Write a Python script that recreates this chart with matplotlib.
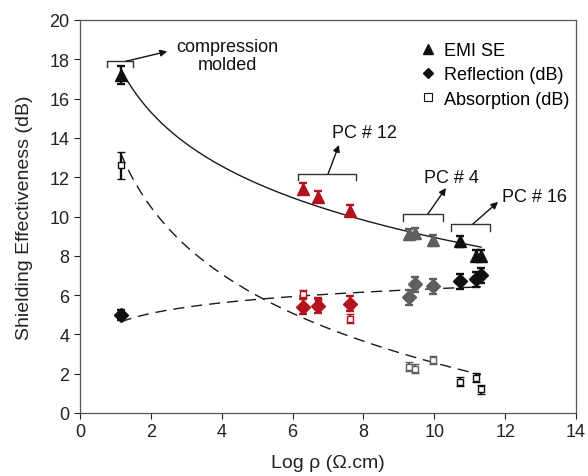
import numpy as np
import matplotlib
matplotlib.use("Agg")
import matplotlib.pyplot as plt
from matplotlib.lines import Line2D

plt.rcParams['font.family'] = ['Liberation Sans', 'DejaVu Sans']

# ---- data ----
cm_x = [1.15]
cm_emi = [17.2]
cm_ref = [5.0]
cm_abs = [12.6]
cm_emi_err = [0.45]
cm_ref_err = [0.25]
cm_abs_err = [0.7]

pc12_x = [6.29, 6.72, 7.62]
pc12_emi = [11.4, 11.0, 10.3]
pc12_ref = [5.4, 5.45, 5.55]
pc12_abs = [6.05, 5.6, 4.8]

pc4_x = [9.3, 9.45, 9.96]
pc4_emi = [9.1, 9.15, 8.8]
pc4_ref = [5.9, 6.55, 6.45]
pc4_abs = [2.35, 2.25, 2.7]

pc16_x = [10.72, 11.18, 11.32]
pc16_emi = [8.75, 8.0, 8.0]
pc16_ref = [6.7, 6.8, 7.0]
pc16_abs = [1.6, 1.8, 1.2]

emi_err = [0.28, 0.28, 0.28]
ref_err = [0.38, 0.38, 0.38]
abs_err = [0.22, 0.22, 0.22]

x_ticks = [0, 2, 4, 6, 8, 10, 12, 14]
y_ticks = [0, 2, 4, 6, 8, 10, 12, 14, 16, 18, 20]

RED = '#b3141c'
GRAY = '#5f5f5f'
BLACK = '#111111'

fig = plt.figure(figsize=(5.88, 4.77), dpi=100)
ax = fig.add_axes([80/588, 1-414/477, (576-80)/588, (414-21)/477])

groups = [
    (cm_x, cm_emi, cm_ref, cm_abs, cm_emi_err, cm_ref_err, cm_abs_err, BLACK),
    (pc12_x, pc12_emi, pc12_ref, pc12_abs, emi_err, ref_err, abs_err, RED),
    (pc4_x, pc4_emi, pc4_ref, pc4_abs, emi_err, ref_err, abs_err, GRAY),
    (pc16_x, pc16_emi, pc16_ref, pc16_abs, emi_err, ref_err, abs_err, BLACK),
]

ekw = dict(capsize=3, elinewidth=1.7, capthick=1.7, linestyle='none')
for gx, ge, gr, ga, ee, re_, ae, col in groups:
    ax.errorbar(gx, ga, yerr=ae, fmt='s', ms=5, mfc='white', mec=col, mew=1.0,
                ecolor=col, zorder=3, **ekw)
    ax.errorbar(gx, gr, yerr=re_, fmt='D', ms=7, mfc=col, mec=col,
                ecolor=col, zorder=4, **ekw)
    ax.errorbar(gx, ge, yerr=ee, fmt='^', ms=8, mfc=col, mec=col,
                ecolor=col, zorder=4, **ekw)

# logarithmic trend lines fitted to the data
all_x = np.array(cm_x + pc12_x + pc4_x + pc16_x)
all_emi = np.array(cm_emi + pc12_emi + pc4_emi + pc16_emi)
all_ref = np.array(cm_ref + pc12_ref + pc4_ref + pc16_ref)
all_abs = np.array(cm_abs + pc12_abs + pc4_abs + pc16_abs)
xs = np.linspace(all_x.min(), all_x.max(), 200)
for yv, ls in [(all_emi, '-'), (all_ref, (0, (8, 5))), (all_abs, (0, (8, 5)))]:
    b, a = np.polyfit(np.log(all_x), yv, 1)
    ax.plot(xs, a + b*np.log(xs), color='#1a1a1a', lw=1.0, linestyle=ls, zorder=2)

ax.set_xlim(0, 14)
ax.set_ylim(0, 20)
ax.set_xticks(x_ticks)
ax.set_yticks(y_ticks)
ax.tick_params(direction='out', length=4, width=0.8, labelsize=13, colors='#222222')
for s in ax.spines.values():
    s.set_color('#555555')
    s.set_linewidth(0.9)
ax.set_xlabel('Log ρ (Ω.cm)', fontsize=14, color='#222222', labelpad=10)
ax.set_ylabel('Shielding Effectiveness (dB)', fontsize=14, color='#222222', labelpad=12)

# legend
handles = [Line2D([], [], marker='^', color=BLACK, ls='none', ms=6.5),
           Line2D([], [], marker='D', color=BLACK, ls='none', ms=5.5),
           Line2D([], [], marker='s', mfc='white', mec=BLACK, ls='none', ms=5.5, mew=0.8)]
ax.legend(handles, ['EMI SE', 'Reflection (dB)', 'Absorption (dB)'], loc='upper right',
          frameon=False, fontsize=13, handletextpad=0.4, labelspacing=0.4,
          bbox_to_anchor=(1.02, 0.985), handlelength=1.0)

# brackets and annotations
BR = '#333333'
def bracket(x0, x1, y, drop):
    ax.plot([x0, x0, x1, x1], [y-drop, y, y, y-drop], color=BR, lw=1.0, zorder=2)

def arrow(x0, y0, x1, y1):
    ax.annotate('', xy=(x1, y1), xytext=(x0, y0),
                arrowprops=dict(arrowstyle='-|>', color='#111111', lw=1.0,
                                mutation_scale=10, shrinkA=0, shrinkB=0))

bracket(0.76, 1.5, 17.9, 0.3)
arrow(1.3, 17.9, 2.46, 18.4)
ax.text(4.15, 18.2, 'compression\nmolded', ha='center', va='center', fontsize=13,
        color='#111111', linespacing=1.05)

bracket(6.15, 7.79, 12.16, 0.3)
arrow(7.0, 12.16, 7.31, 13.64)
ax.text(7.1, 14.25, 'PC # 12', ha='left', va='center', fontsize=13, color='#111111')

bracket(9.12, 10.25, 10.13, 0.36)
arrow(9.82, 10.13, 10.33, 11.45)
ax.text(9.71, 12.0, 'PC # 4', ha='left', va='center', fontsize=13, color='#111111')

bracket(10.47, 11.57, 9.62, 0.36)
arrow(11.09, 9.62, 11.8, 10.74)
ax.text(11.91, 11.0, 'PC # 16', ha='left', va='center', fontsize=13, color='#111111')

fig.savefig('out.png', dpi=100)
